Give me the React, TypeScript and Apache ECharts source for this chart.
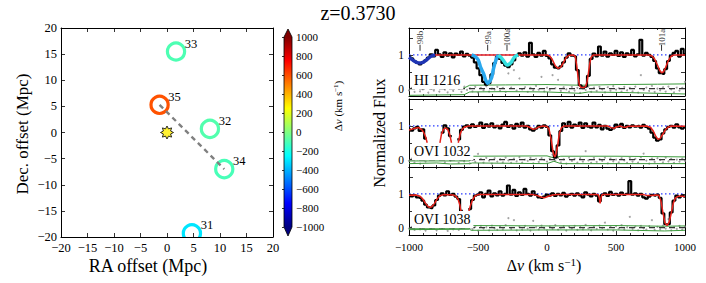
import React, { useEffect, useRef } from 'react';
import * as echarts from 'echarts';

// ---------------- Left panel: galaxies around the sightline ----------------
const GAL_IDS = ['33', '35', '32', '34', '31'];
const GAL_RA = [1.7, -1.4, 8.1, 10.8, 4.7];
const GAL_DEC = [15.5, 5.3, 0.7, -7.0, -19.3];
const GAL_DV = [-100, 590, -90, -110, -300];
const GROUP_LINK = ['35', '34'];
const QSO_POS = [0, 0];

const MAP_TICKS = { min: -20, max: 20, interval: 5 };
const CBAR_TICKS = { min: -1000, max: 1000, interval: 200 };

// ---------------- Right panels: spectra ----------------
const V_START = -1000;
const V_STEP = 20;

const FLUX_HI = [
  0.95, 0.90, 0.82, 0.76, 0.72, 0.78, 0.84, 0.92, 1.02, 0.96,
  1.15, 1.02, 0.94, 1.08, 0.98, 1.05, 0.93, 1.04, 1.00, 1.10,
  0.96, 1.03, 0.98, 0.92, 0.78, 0.60, 0.40, 0.20, 0.12, 0.16,
  0.42, 0.76, 0.95, 0.88, 0.76, 0.68, 0.64, 0.72, 0.84, 0.97,
  1.05, 0.98, 1.08, 0.95, 1.36, 1.02, 0.94, 1.06, 0.98, 1.12,
  0.97, 0.90, 0.72, 0.62, 0.60, 0.66, 0.78, 0.92, 1.05, 0.98,
  0.96, 0.55, 0.10, 0.04, 0.06, 0.38, 0.88, 1.04, 0.96, 1.25,
  0.98, 1.10, 0.95, 1.05, 1.00, 1.12, 0.97, 1.08, 0.94, 1.05,
  1.00, 1.15, 0.96, 1.02, 1.45, 0.98, 1.06, 1.00, 0.94, 0.82,
  0.60, 0.46, 0.44, 0.58, 0.82, 0.98, 1.06, 1.12, 0.95, 1.18,
  1.02,
];
const FLUX_OVI1032 = [
  0.90, 0.86, 0.93, 0.97, 0.85, 0.90, 0.62, null, null, null,
  null, null, 0.80, 1.02, 0.93, 0.70, null, null, 0.60, 0.88,
  0.98, 1.02, 0.95, 1.05, 0.97, 1.00, 1.10, 0.94, 1.05, 0.98,
  1.08, 0.96, 1.00, 0.93, 1.04, 1.12, 0.97, 1.02, 0.92, 1.06,
  0.98, 1.10, 0.95, 1.00, 0.90, 0.86, 0.92, 1.00, 0.95, 1.02,
  0.97, 0.72, 0.25, 0.06, 0.42, 0.85, 1.08, 0.97, 1.12, 0.95,
  1.04, 1.00, 1.10, 0.94, 1.08, 0.98, 0.95, 1.10, 0.96, 1.03,
  0.90, 1.00, 0.92, 0.88, 0.93, 1.04, 0.97, 1.06, 0.94, 1.00,
  0.96, 1.02, 0.98, 1.00, 0.95, 1.03, 0.97, 0.92, 0.80, 0.65,
  0.56, 0.60, 0.78, 0.90, 0.97, 1.00, 0.95, 1.05, 0.96, 0.92,
  0.96,
];
const FLUX_OVI1038 = [
  0.97, 0.93, 0.96, 0.90, 0.88, 0.80, 0.68, 0.60, 0.58, 0.66,
  0.82, 0.95, 1.02, 0.96, 1.08, 0.97, 1.00, 0.92, 0.85, 0.50,
  null, null, 0.55, 0.82, 0.95, 0.98, 1.05, 0.90, 1.00, 1.10,
  0.93, 1.02, 0.96, 1.08, 0.95, 1.00, 1.25, 0.98, 1.12, 0.94,
  1.05, 0.97, 1.15, 1.00, 0.95, 1.08, 0.97, 0.90, 0.88, 0.92,
  0.98, 0.95, 1.02, 0.94, 1.00, 0.96, 1.03, 0.92, 0.97, 1.00,
  0.95, 1.02, 0.96, 0.90, 1.05, 0.98, 0.93, 1.00, 0.95, 0.78,
  0.97, 1.02, 0.94, 1.06, 0.97, 1.00, 0.95, 1.04, 0.97, 1.00,
  1.38, 0.98, 1.02, 0.95, 1.00, 0.90, 0.86, 0.92, 0.97, 0.95,
  0.98, 0.88, 0.42, 0.10, 0.10, 0.45, 0.80, 0.95, 0.90, 0.95,
  0.92,
];

const ERR_HI = [
  -0.05, 0.02, -0.10, 0.04, -0.08, -0.02, 0.05, -0.12, 0.00, -0.06,
  0.03, -0.09, 0.06, -0.03, -0.11, 0.02, -0.07, 0.04, -0.01, -0.10,
  0.06, -0.04, 0.01, -0.08, 0.05, -0.12, 0.02, -0.05, 0.07, -0.09,
  0.00, -0.03, 0.05, -0.07, 0.02, -0.10, 0.45, 0.03, 0.55, -0.06,
  0.30, -0.02, 0.04, -0.10, 0.02, -0.05, 0.08, -0.03, 0.35, -0.08,
  0.03, -0.04, 0.40, 0.01, 0.26, -0.07, 0.04, -0.02, -0.09, 0.05,
  -0.06, 0.02, -0.13, 0.00, -0.04, 0.06, -0.10, 0.03, -0.07, 0.05,
  -0.02, -0.11, 0.04, -0.06, 0.07, -0.03, 0.01, -0.09, 0.05, -0.05,
  0.02, -0.08, 0.06, -0.12, 0.40, -0.04, 0.03, -0.07, 0.08, -0.10,
  0.00, -0.05, 0.04, -0.09, 0.06, -0.02, -0.11, 0.03, -0.06, 0.02,
  0.20,
];
const ERR_OVI1032 = [
  -0.04, 0.03, -0.09, 0.01, -0.12, 0.05, -0.06, null, null, null,
  null, null, 0.02, -0.08, 0.04, -0.03, null, null, -0.10, 0.03,
  -0.05, 0.06, -0.11, 0.00, -0.07, 0.17, 0.02, -0.09, 0.05, -0.03,
  -0.12, 0.04, -0.06, 0.01, -0.08, 0.06, -0.02, -0.10, 0.03, -0.05,
  0.07, -0.09, 0.00, -0.04, 0.05, -0.11, 0.02, -0.07, 0.04, -0.01,
  -0.06, 0.03, 0.15, -0.03, 0.05, -0.08, 0.01, -0.12, 0.06, -0.04,
  0.02, -0.09, 0.04, -0.06, 0.25, -0.02, -0.10, 0.05, -0.07, 0.01,
  -0.04, 0.06, -0.11, 0.03, -0.05, 0.00, -0.08, 0.04, -0.02, -0.10,
  0.05, -0.06, 0.02, -0.09, 0.07, 0.18, -0.03, -0.12, 0.03, -0.07,
  0.04, -0.01, -0.08, 0.06, -0.05, 0.02, -0.10, 0.00, -0.06, 0.03,
  -0.04,
];
const ERR_OVI1038 = [
  -0.03, 0.02, -0.07, 0.04, -0.05, 0.00, -0.09, 0.03, -0.04, 0.05,
  -0.08, 0.01, -0.02, 0.04, -0.10, 0.02, -0.05, 0.03, -0.07, 0.00,
  null, null, 0.04, -0.06, 0.02, -0.09, 0.05, -0.03, 0.01, -0.08,
  0.06, -0.02, -0.07, 0.03, -0.05, 0.07, 0.28, -0.04, 0.22, -0.08,
  0.02, -0.06, 0.05, -0.03, -0.09, 0.20, 0.01, -0.05, 0.06, -0.02,
  -0.08, 0.03, -0.04, 0.07, -0.06, 0.00, 0.04, -0.09, 0.02, -0.03,
  0.05, -0.07, 0.01, -0.05, 0.08, -0.02, -0.08, 0.03, -0.04, 0.06,
  -0.01, 0.15, -0.06, 0.02, -0.09, 0.04, -0.03, 0.07, -0.05, 0.01,
  0.32, -0.04, 0.03, -0.08, 0.05, -0.02, -0.06, 0.04, 0.22, -0.07,
  0.02, -0.05, 0.06, -0.03, 0.25, -0.08, 0.01, -0.04, 0.05, -0.06,
  0.03,
];

// Voigt-profile model fits, [velocity, normalized flux]
const MODEL_HI = [
  [-820, 1], [-200, 1], [0, 1], [20, 0.97], [40, 0.85], [60, 0.68], [80, 0.6], [100, 0.64],
  [120, 0.78], [140, 0.93], [160, 0.99], [190, 1], [205, 0.95], [215, 0.7], [225, 0.35],
  [235, 0.1], [245, 0.04], [265, 0.03], [280, 0.06], [290, 0.2], [300, 0.45], [310, 0.75],
  [320, 0.93], [335, 1], [740, 1], [760, 0.97], [780, 0.88], [800, 0.7], [815, 0.55],
  [830, 0.47], [845, 0.5], [860, 0.63], [880, 0.84], [900, 0.96], [920, 1], [1000, 1],
];
const MODEL_OVI1032 = [
  [-1000, 0.88], [-980, 0.9], [-950, 0.94], [-930, 0.95], [-910, 0.9], [-895, 0.82],
  [-880, 0.68], [-868, 0.5], [-820, null], [-776, 0.5], [-765, 0.75], [-750, 0.9],
  [-735, 0.94], [-720, 0.9], [-705, 0.75], [-692, 0.5], [-670, null], [-643, 0.5],
  [-630, 0.75], [-615, 0.9], [-595, 0.97], [-570, 1.0], [-150, 1.0], [-125, 0.96],
  [-100, 0.9], [-80, 0.92], [-60, 0.97], [-30, 1], [0, 0.98], [15, 0.9], [30, 0.6],
  [45, 0.2], [55, 0.08], [65, 0.15], [78, 0.45], [90, 0.78], [105, 0.95], [125, 1.0],
  [440, 1.0], [465, 0.95], [485, 0.93], [505, 0.97], [530, 1.0], [550, 0.97], [570, 0.96],
  [590, 0.99], [720, 1.0], [750, 0.96], [770, 0.85], [790, 0.68], [805, 0.6], [820, 0.63],
  [840, 0.76], [860, 0.9], [880, 0.97], [900, 1.0], [1000, 0.99],
];
const MODEL_OVI1038 = [
  [-1000, 0.96], [-950, 0.97], [-920, 0.93], [-900, 0.85], [-880, 0.72], [-860, 0.62],
  [-848, 0.6], [-835, 0.62], [-815, 0.72], [-795, 0.86], [-775, 0.95], [-750, 0.98],
  [-680, 0.97], [-660, 0.93], [-645, 0.85], [-632, 0.68], [-622, 0.45], [-600, null],
  [-568, 0.45], [-555, 0.65], [-540, 0.82], [-522, 0.94], [-500, 0.98], [-100, 0.98],
  [-70, 0.95], [-40, 0.9], [-15, 0.89], [10, 0.93], [40, 0.97], [70, 0.98], [370, 0.98],
  [378, 0.9], [385, 0.72], [392, 0.9], [400, 0.98], [700, 0.98], [730, 0.95], [760, 0.95],
  [790, 0.97], [810, 0.96], [825, 0.8], [840, 0.45], [855, 0.14], [870, 0.06], [885, 0.16],
  [900, 0.42], [915, 0.72], [930, 0.88], [950, 0.93], [980, 0.93], [1000, 0.92],
];

// HI components, [velocity, flux]
const COMP_98B = [
  [-1000, 0.93], [-980, 0.87], [-960, 0.81], [-940, 0.77], [-920, 0.76], [-900, 0.78],
  [-880, 0.83], [-860, 0.9], [-840, 0.96], [-820, 0.99], [-810, 1],
];
const COMP_99A = [
  [-546, 1], [-520, 0.95], [-498, 0.85], [-480, 0.62], [-461, 0.46], [-445, 0.26],
  [-430, 0.16], [-415, 0.22], [-401, 0.33], [-390, 0.55], [-377, 0.76], [-365, 0.9], [-353, 1],
];
const COMP_100A = [
  [-353, 1], [-335, 0.93], [-317, 0.84], [-300, 0.74], [-285, 0.7], [-270, 0.74],
  [-256, 0.8], [-244, 0.89], [-232, 0.95], [-208, 1],
];
const COMP_NAMES = ['98b', '99a', '100a', '101a'];
const COMP_V = [-920, -430, -290, 830];

// error envelope (green)
const GREEN_UP_HI = [[-1000, 0.0], [-600, 0.02], [-560, 0.1], [-300, 0.11], [0, 0.12], [250, 0.1], [500, 0.12], [800, 0.13], [1000, 0.14]];
const GREEN_LO_HI = [[-1000, -0.2], [-600, -0.18], [-560, -0.1], [-300, -0.09], [0, -0.1], [240, -0.14], [300, -0.1], [600, -0.12], [1000, -0.16]];
const GREEN_UP_1032 = [[-1000, -0.04], [-560, -0.04], [-540, 0.1], [0, 0.11], [50, 0.05], [100, 0.1], [500, 0.1], [1000, 0.08]];
const GREEN_LO_1032 = [[-1000, -0.12], [-800, -0.1], [-700, -0.13], [-560, -0.12], [-540, -0.1], [0, -0.12], [50, -0.05], [100, -0.12], [1000, -0.12]];
const GREEN_UP_1038 = [[-1000, -0.02], [-560, -0.02], [-550, 0.06], [0, 0.05], [500, 0.06], [850, 0.04], [1000, 0.05]];
const GREEN_LO_1038 = [[-1000, -0.06], [-560, -0.05], [-550, -0.08], [0, -0.07], [500, -0.07], [850, -0.1], [1000, -0.08]];

const ION_LABELS = ['HI 1216', 'OVI 1032', 'OVI 1038'];
const VEL_TICKS = { min: -1000, max: 1000, interval: 500 };
const FLUX_RANGE = { min: -0.22, max: 1.8 };

// ---------------- styling helpers ----------------
const SERIF = 'Liberation Serif';
const JET = ['#000080', '#0000ff', '#0080ff', '#00ffff', '#80ff80', '#ffff00', '#ff8000', '#ff0000', '#800000'];
function hexRgb(h: string) {
  return [parseInt(h.slice(1, 3), 16), parseInt(h.slice(3, 5), 16), parseInt(h.slice(5, 7), 16)];
}
function jet(dv: number) {
  const t = Math.min(1, Math.max(0, (dv - CBAR_TICKS.min) / (CBAR_TICKS.max - CBAR_TICKS.min))) * 8;
  const k = Math.min(7, Math.floor(t));
  const f = t - k;
  const a = hexRgb(JET[k]);
  const b = hexRgb(JET[k + 1]);
  const c = a.map((v, i) => Math.round(v + (b[i] - v) * f));
  return `rgb(${c[0]},${c[1]},${c[2]})`;
}
const minus = (v: number) => String(v).replace('-', '\u2212');

const STAR = 'path://M20,10 L15.54,12.3 L17.07,17.07 L12.3,15.54 L10,20 L7.7,15.54 L2.93,17.07 L4.46,12.3 L0,10 L4.46,7.7 L2.93,2.93 L7.7,4.46 L10,0 L12.3,4.46 L17.07,2.93 L15.54,7.7 Z';

// layout (px)
const MAP_GRID = { left: 61, top: 28, width: 212, height: 209 };
const CBAR_BOX = { left: 284, top: 37, width: 8, height: 190 };
const PANEL_LEFT = 409;
const PANEL_WIDTH = 276;
const PANEL_TOPS = [28, 99, 167];
const PANEL_H = 68;

const vel = (i: number) => V_START + i * V_STEP;
const toPairs = (arr: (number | null)[]) => arr.map((y, i) => [vel(i), y]);

function frameAxis(extra: any) {
  return {
    type: 'value',
    axisLine: { show: true, onZero: false, lineStyle: { color: '#000', width: 1 } },
    axisTick: { show: true, inside: true, length: 4, lineStyle: { color: '#000', width: 0.8 } },
    splitLine: { show: false },
    axisLabel: { show: false },
    ...extra,
  };
}

const DV_RICH = (size: number) => ({
  n: { fontFamily: SERIF, fontSize: size, fill: '#000' },
  i: { fontFamily: SERIF, fontSize: size, fontStyle: 'italic', fill: '#000' },
  s: { fontFamily: SERIF, fontSize: Math.round(size * 0.68), fill: '#000', verticalAlign: 'top', padding: [0, 0, Math.round(size * 0.45), 0] },
});
const DV_TEXT = '{n|\u0394}{i|v}{n| (km s}{s|\u22121}{n|)}';

export default function App() {
  const ref = useRef<HTMLDivElement>(null);
  useEffect(() => {
    if (!ref.current) return;
    const chart = echarts.init(ref.current, undefined, { renderer: 'svg' });

    const xAxis: any[] = [];
    const yAxis: any[] = [];
    const grid: any[] = [];
    const series: any[] = [];

    // ---- grid 0: map ----
    grid.push({ ...MAP_GRID });
    const mapLabel = { show: true, fontFamily: SERIF, fontSize: 12.5, color: '#000', formatter: (v: number) => minus(v) };
    xAxis.push(frameAxis({ gridIndex: 0, position: 'bottom', ...MAP_TICKS, axisLabel: { ...mapLabel, margin: 4 } }));
    xAxis.push(frameAxis({ gridIndex: 0, position: 'top', ...MAP_TICKS }));
    yAxis.push(frameAxis({ gridIndex: 0, position: 'left', ...MAP_TICKS, axisLabel: { ...mapLabel, margin: 4 } }));
    yAxis.push(frameAxis({ gridIndex: 0, position: 'right', ...MAP_TICKS }));

    // ---- grid 1: colorbar ----
    grid.push({ ...CBAR_BOX });
    xAxis.push({ gridIndex: 1, type: 'value', show: false, min: 0, max: 1 });
    yAxis.push({
      gridIndex: 1, type: 'value', position: 'right', ...CBAR_TICKS,
      axisLine: { show: false },
      axisTick: { show: true, inside: true, length: 2, lineStyle: { color: '#000', width: 0.8 } },
      splitLine: { show: false },
      axisLabel: { show: true, fontFamily: SERIF, fontSize: 11, color: '#000', margin: 4, formatter: (v: number) => minus(v) },
    });

    // ---- grids 2..4: spectra ----
    PANEL_TOPS.forEach((top, p) => {
      grid.push({ left: PANEL_LEFT, top, width: PANEL_WIDTH, height: PANEL_H });
      const g = p + 2;
      const last = p === PANEL_TOPS.length - 1;
      const minor = { show: true, splitNumber: 5, length: 2, lineStyle: { color: '#000', width: 0.8 } };
      xAxis.push(frameAxis({
        gridIndex: g, position: 'bottom', ...VEL_TICKS, minorTick: minor,
        axisLabel: { show: last, fontFamily: SERIF, fontSize: 11, color: '#000', margin: 6, formatter: (v: number) => minus(v) },
      }));
      xAxis.push(frameAxis({ gridIndex: g, position: 'top', ...VEL_TICKS, minorTick: minor }));
      yAxis.push(frameAxis({
        gridIndex: g, position: 'left', ...FLUX_RANGE,
        axisTick: { show: true, inside: true, length: 4, customValues: [0, 0.5, 1, 1.5], lineStyle: { color: '#000', width: 0.8 } },
        axisLabel: { show: true, customValues: [0, 1], fontFamily: SERIF, fontSize: 11.5, color: '#000', margin: 5 },
      }));
      yAxis.push(frameAxis({
        gridIndex: g, position: 'right', ...FLUX_RANGE,
        axisTick: { show: true, inside: true, length: 4, customValues: [0, 0.5, 1, 1.5], lineStyle: { color: '#000', width: 0.8 } },
      }));
    });
    series.push({ type: 'line', xAxisIndex: 2, yAxisIndex: 2, data: [], silent: true });

    // map series: galaxies as open circles coloured by velocity offset, clipped to the frame
    series.push({
      type: 'custom', xAxisIndex: 0, yAxisIndex: 0, clip: true, z: 3, silent: true,
      data: GAL_IDS.map((id, i) => [GAL_RA[i], GAL_DEC[i], GAL_DV[i]]),
      renderItem: (params: any, api: any) => {
        const pt = api.coord([api.value(0), api.value(1)]);
        return {
          type: 'group',
          children: [
            { type: 'circle', shape: { cx: pt[0], cy: pt[1], r: 8.6 }, style: { fill: 'none', stroke: jet(api.value(2)), lineWidth: 3.2 } },
            {
              type: 'text', x: pt[0] + 15, y: pt[1] - 8,
              style: { text: GAL_IDS[params.dataIndex], fontFamily: SERIF, fontSize: 12.5, fill: '#000', align: 'center', verticalAlign: 'middle' },
            },
          ],
        };
      },
    });
    const li = GAL_IDS.indexOf(GROUP_LINK[0]);
    const lj = GAL_IDS.indexOf(GROUP_LINK[1]);
    series.push({
      type: 'line', xAxisIndex: 0, yAxisIndex: 0, symbol: 'none', z: 4,
      data: [[GAL_RA[li], GAL_DEC[li]], [GAL_RA[lj], GAL_DEC[lj]]],
      lineStyle: { color: '#808080', width: 2.4, type: [5, 4] },
    });
    series.push({
      type: 'scatter', xAxisIndex: 0, yAxisIndex: 0, symbol: STAR, symbolSize: 13, z: 5,
      data: [QSO_POS], itemStyle: { color: '#ffee00', borderColor: '#000', borderWidth: 1 },
    });

    // spectra series
    const PANELS = [
      { flux: FLUX_HI, model: MODEL_HI, err: ERR_HI, up: GREEN_UP_HI, lo: GREEN_LO_HI },
      { flux: FLUX_OVI1032, model: MODEL_OVI1032, err: ERR_OVI1032, up: GREEN_UP_1032, lo: GREEN_LO_1032 },
      { flux: FLUX_OVI1038, model: MODEL_OVI1038, err: ERR_OVI1038, up: GREEN_UP_1038, lo: GREEN_LO_1038 },
    ];
    PANELS.forEach((P, p) => {
      const xi = 3 + 2 * p;
      const yi = 3 + 2 * p;
      const base = { xAxisIndex: xi, yAxisIndex: yi, silent: true };
      series.push({ ...base, type: 'scatter', symbol: 'circle', symbolSize: 2, data: toPairs(P.err), itemStyle: { color: '#8c8c8c' }, z: 2 });
      series.push({ ...base, type: 'line', symbol: 'none', data: P.up, lineStyle: { color: '#3c9a3c', width: 1 }, z: 3 });
      series.push({ ...base, type: 'line', symbol: 'none', data: P.lo, lineStyle: { color: '#3c9a3c', width: 1 }, z: 3 });
      series.push({ ...base, type: 'line', symbol: 'none', data: [[VEL_TICKS.min, 0], [VEL_TICKS.max, 0]], lineStyle: { color: '#333', width: 1.2, type: [6, 4] }, z: 3 });
      series.push({ ...base, type: 'line', symbol: 'none', data: [[VEL_TICKS.min, 1], [VEL_TICKS.max, 1]], lineStyle: { color: '#2a3cff', width: 1.2, type: [1.5, 2.5] }, z: 3 });
      series.push({ ...base, type: 'line', symbol: 'none', step: 'middle', data: toPairs(P.flux), lineStyle: { color: '#000', width: 2.2 }, z: 4 });
      series.push({ ...base, type: 'line', symbol: 'none', data: P.model, lineStyle: { color: '#e8231c', width: 1.5 }, z: 5 });
      if (p === 0) {
        [[COMP_98B, '#1f35b4'], [COMP_99A, '#2aa8ee'], [COMP_100A, '#35e0e0']].forEach(([d, c]: any) => {
          series.push({ ...base, type: 'line', symbol: 'none', smooth: 0.3, data: d, lineStyle: { color: c, width: 3.5 }, z: 6 });
        });
        series.push({
          ...base, type: 'scatter', symbol: 'rect', symbolSize: [1, 6], z: 6,
          data: COMP_V.map((v) => [v, 1.21]), itemStyle: { color: '#000' },
        });
        series.push({
          ...base, type: 'scatter', symbolSize: 0, z: 6,
          data: COMP_V.map((v, i) => ({ value: [v, 1.52], name: COMP_NAMES[i] })),
          label: { show: true, position: 'inside', rotate: 90, formatter: (pp: any) => pp.name, fontFamily: SERIF, fontSize: 9, color: '#000' },
        });
      }
    });

    const txt = (text: string, x: number, y: number, size: number, rot = 0, extra: any = {}) => ({
      type: 'text', x, y, rotation: rot, z: 100,
      style: { text, fontFamily: SERIF, fontSize: size, fill: '#000', align: 'center', verticalAlign: 'middle', ...extra },
    });
    const cb = CBAR_BOX;
    const cx = cb.left + cb.width / 2;
    const graphic: any[] = [
      txt('z=0.3730', 358, 13, 20),
      txt('RA offset (Mpc)', 148, 266, 18),
      txt('Dec. offset (Mpc)', 22, 134, 17, Math.PI / 2),
      txt(DV_TEXT, 338, 106, 11, Math.PI / 2, { rich: DV_RICH(11) }),
      txt('Normalized Flux', 379, 133, 16, Math.PI / 2),
      txt(DV_TEXT, 544, 265, 16, 0, { rich: DV_RICH(16) }),
      {
        type: 'rect', z: 50,
        shape: { x: cb.left, y: cb.top, width: cb.width, height: cb.height },
        style: {
          fill: new echarts.graphic.LinearGradient(0, 1, 0, 0, JET.map((c, i) => ({ offset: i / (JET.length - 1), color: c }))),
        },
      },
      { type: 'polygon', z: 50, shape: { points: [[cb.left, cb.top], [cb.left + cb.width, cb.top], [cx, cb.top - 8]] }, style: { fill: JET[JET.length - 1] } },
      { type: 'polygon', z: 50, shape: { points: [[cb.left, cb.top + cb.height], [cb.left + cb.width, cb.top + cb.height], [cx, cb.top + cb.height + 9]] }, style: { fill: JET[0] } },
      {
        type: 'polygon', z: 51,
        shape: { points: [[cx, cb.top - 8], [cb.left + cb.width, cb.top], [cb.left + cb.width, cb.top + cb.height], [cx, cb.top + cb.height + 9], [cb.left, cb.top + cb.height], [cb.left, cb.top]] },
        style: { fill: 'none', stroke: '#000', lineWidth: 0.8 },
      },
    ];
    ION_LABELS.forEach((t, p) => {
      graphic.push({
        type: 'text', x: PANEL_LEFT + 3, y: PANEL_TOPS[p] + 44, z: 100,
        style: { text: t, fontFamily: SERIF, fontSize: 14, fill: '#000', align: 'left', verticalAlign: 'top', backgroundColor: '#fff', padding: [1, 3, 2, 2] },
      });
    });

    chart.setOption({
      animation: false,
      backgroundColor: '#fff',
      grid, xAxis, yAxis, series, graphic,
    });
    return () => chart.dispose();
  }, []);
  return <div ref={ref} style={{ position: 'absolute', left: 0, top: 0, width: 706, height: 283 }} />;
}
